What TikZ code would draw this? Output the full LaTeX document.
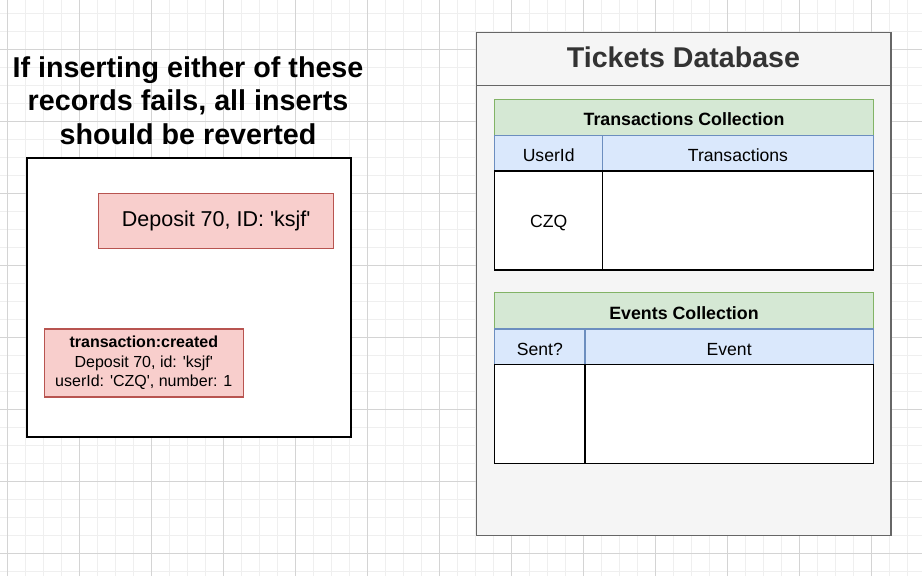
\documentclass[tikz,border=0pt]{standalone}
\usepackage{fontspec}
\setmainfont{Liberation Sans}
\definecolor{gridminor}{HTML}{EFEFEF}
\definecolor{gridmajor}{HTML}{D4D4D4}
\definecolor{redfill}{HTML}{F8CECC}
\definecolor{redline}{HTML}{B85450}
\definecolor{greenfill}{HTML}{D5E8D4}
\definecolor{greenline}{HTML}{82B366}
\definecolor{bluefill}{HTML}{DAE8FC}
\definecolor{blueline}{HTML}{6C8EBF}
\definecolor{dbfill}{HTML}{F5F5F5}
\definecolor{dbline}{HTML}{666666}
\definecolor{dbtext}{HTML}{333333}
\newcommand{\sq}{\textquotesingle}
\tikzset{
  box/.style={rectangle, anchor=north west, inner sep=0pt, outer sep=0pt, line width=1.5pt},
  redbox/.style={box, draw=redline, fill=redfill},
  greenbox/.style={box, draw=greenline, fill=greenfill, text height=16.7pt, text depth=0pt, font=\bfseries\fontsize{17.8}{21.3}\selectfont},
  bluebox/.style={box, draw=blueline, fill=bluefill, text height=16.7pt, text depth=0pt, font=\fontsize{17.6}{21.1}\selectfont},
  cellbox/.style={box, draw=black, fill=white, text height=13pt, text depth=0pt, font=\fontsize{17.6}{21.1}\selectfont},
}
\begin{document}
\begin{tikzpicture}[x=1pt,y=-1pt]
\useasboundingbox (0,0) rectangle (922,576);
\fill[white] (0,0) rectangle (922,576);
% grid
\foreach \i in {0,...,50} \draw[gridminor, line width=1pt] ({7.3+18*\i},0) -- ({7.3+18*\i},576);
\foreach \i in {0,...,31} \draw[gridminor, line width=1pt] (0,{13.3+18*\i}) -- (922,{13.3+18*\i});
\foreach \i in {0,...,12} \draw[gridmajor, line width=1pt] ({7.3+72*\i},0) -- ({7.3+72*\i},576);
\foreach \i in {1,...,8} \draw[gridmajor, line width=1pt] (0,{-22.7+72*\i}) -- (922,{-22.7+72*\i});

% title
\node[font=\bfseries\fontsize{28.7}{33.6}\selectfont, align=center] (title) at (188,100.5)
  {If inserting either of these\\records fails, all inserts\\should be reverted};

% left container
\node[box, draw=black, fill=white, line width=2pt, minimum width=324.3pt, minimum height=279pt] (cont) at (26.7,157.7) {};
\node[redbox, minimum width=235pt, minimum height=55pt, font=\fontsize{21.5}{25.8}\selectfont] (dep) at (98.7,193.7) {Deposit 70, ID: \sq ksjf\sq};
\node[redbox, minimum width=199pt, minimum height=68pt, align=center, font=\fontsize{16}{19.3}\selectfont] (evt) at (44.3,329)
  {\textbf{transaction:created}\\Deposit 70, id: \sq ksjf\sq\\userId: \sq CZQ\sq, number: 1};

% database
\node[box, draw=dbline, fill=dbfill, minimum width=414.3pt, minimum height=503.4pt] (db) at (476.7,32.3) {};
\draw[dbline, line width=1.5pt] (db.west |- 0,85.7) -- (db.east |- 0,85.7);
\node[font=\bfseries\fontsize{28.6}{34.3}\selectfont, text=dbtext, anchor=base] (dbtitle) at (683.5,67.3) {Tickets Database};

% transactions collection
\node[greenbox, minimum width=378.6pt, minimum height=36.4pt] (th) at (494.7,99.3) {Transactions Collection};
\node[bluebox, minimum width=108pt, minimum height=35.3pt] (tc1) at (494.7,135.7) {UserId};
\node[bluebox, minimum width=270.6pt, minimum height=35.3pt] (tc2) at (602.7,135.7) {Transactions};
\node[cellbox, minimum width=108pt, minimum height=99pt] (td1) at (494.7,171) {CZQ};
\node[cellbox, minimum width=270.6pt, minimum height=99pt] (td2) at (602.7,171) {};

% events collection
\node[greenbox, minimum width=378.6pt, minimum height=36.3pt] (eh) at (494.7,292.7) {Events Collection};
\node[bluebox, minimum width=90.3pt, minimum height=35.3pt] (ec1) at (494.7,329) {Sent?};
\node[bluebox, minimum width=288.3pt, minimum height=35.3pt] (ec2) at (585,329) {Event};
\node[cellbox, minimum width=90.3pt, minimum height=99.4pt] (ed1) at (494.7,364.3) {};
\node[cellbox, minimum width=288.3pt, minimum height=99.4pt] (ed2) at (585,364.3) {};
\end{tikzpicture}
\end{document}
